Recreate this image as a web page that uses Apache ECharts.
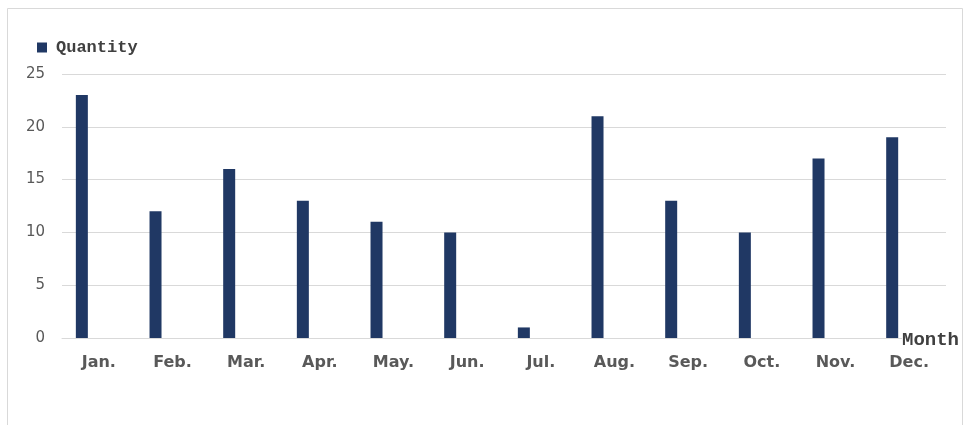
<!DOCTYPE html>
<html>
<head>
<meta charset="utf-8">
<script src="https://cdn.jsdelivr.net/npm/echarts@6/dist/echarts.min.js"></script>
<style>html,body{margin:0;padding:0;background:#fff;}#c{width:966px;height:425px;}</style>
</head>
<body>
<div id="c"></div>
<script>
var categories = ['Jan.', 'Feb.', 'Mar.', 'Apr.', 'May.', 'Jun.', 'Jul.', 'Aug.', 'Sep.', 'Oct.', 'Nov.', 'Dec.'];
var quantity = [23, 12, 16, 13, 11, 10, 1, 21, 13, 10, 17, 19];
var placeholder = [null, null, null, null, null, null, null, null, null, null, null, null];
var yTicks = { min: 0, max: 25, interval: 5 };
var xAxisTitle = 'Month';

var chart = echarts.init(document.getElementById('c'));
chart.setOption({
  backgroundColor: '#ffffff',
  animation: false,
  graphic: [{
    type: 'rect',
    shape: { x: 7.5, y: 8.5, width: 955, height: 420 },
    style: { fill: 'none', stroke: '#d9d9d9', lineWidth: 1 },
    silent: true
  }, {
    type: 'text',
    left: 902, top: 330,
    z: 100,
    style: {
      text: xAxisTitle,
      font: 'bold 19px "Liberation Mono"',
      fill: '#404040',
      backgroundColor: '#ffffff',
      padding: [1, 2, 1, 0]
    },
    silent: true
  }],
  legend: {
    data: ['Quantity'],
    left: 37, top: 39,
    padding: 0,
    itemWidth: 10, itemHeight: 10,
    icon: 'rect',
    textStyle: { fontFamily: 'Liberation Mono', fontWeight: 'bold', fontSize: 17, color: '#404040', padding: [0, 0, 0, 4] }
  },
  grid: { left: 62, right: 20, top: 74, bottom: 87, containLabel: false },
  xAxis: {
    type: 'category',
    data: categories,
    axisLine: { lineStyle: { color: '#d9d9d9' } },
    axisTick: { show: false },
    axisLabel: { margin: 17, fontFamily: 'DejaVu Sans', fontWeight: 'bold', fontSize: 16, color: '#595959' }
  },
  yAxis: {
    type: 'value',
    min: yTicks.min, max: yTicks.max, interval: yTicks.interval,
    axisLine: { show: false },
    axisTick: { show: false },
    splitLine: { lineStyle: { color: '#d9d9d9' } },
    axisLabel: { margin: 17, fontFamily: 'DejaVu Sans', fontSize: 15, color: '#595959' }
  },
  series: [{
    name: 'Quantity',
    type: 'bar',
    data: quantity,
    barWidth: 12,
    barGap: '183%',
    itemStyle: { color: '#203864' }
  }, {
    name: 'blank',
    type: 'bar',
    data: placeholder,
    barWidth: 12,
    itemStyle: { color: 'transparent' }
  }]
});
</script>
</body>
</html>
